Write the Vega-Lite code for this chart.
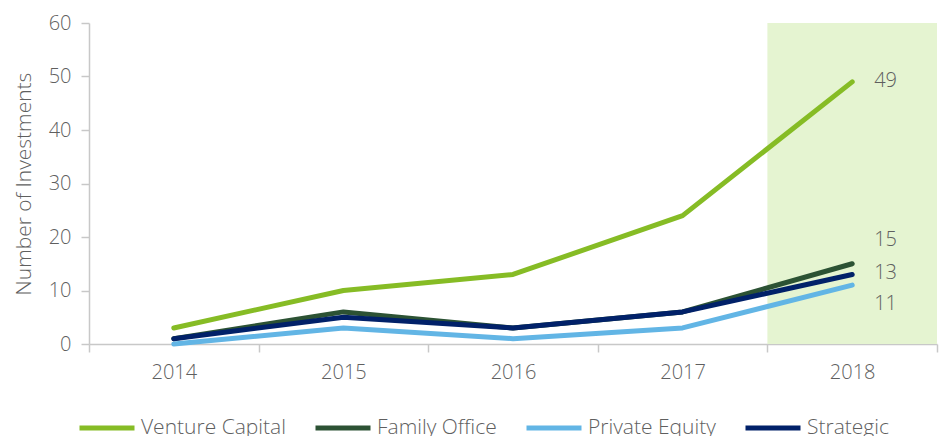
{
  "$schema": "https://vega.github.io/schema/vega-lite/v6.json",
  "autosize": {"type": "none"},
  "width": 848,
  "height": 321,
  "padding": {"left": 89, "top": 23, "right": 7, "bottom": 92},
  "background": "white",
  "config": {
    "view": {"stroke": null},
    "font": "Open Sans",
    "axis": {"labelFont": "Open Sans", "titleFont": "Open Sans", "labelFontWeight": 300, "titleFontWeight": 300, "labelColor": "#5f5f5f", "titleColor": "#5f5f5f", "labelFontSize": 20, "titleFontSize": 21, "domainColor": "#c8c8c8", "tickColor": "#c8c8c8", "domainWidth": 1.5, "tickWidth": 1.5, "grid": false, "labelOverlap": false},
    "legend": {"labelFont": "Open Sans", "labelFontWeight": 300, "labelColor": "#5f5f5f", "labelFontSize": 21}
  },
  "datasets": {
    "series": [
      {"year": "2014", "type": "Venture Capital", "value": 3},
      {"year": "2015", "type": "Venture Capital", "value": 10},
      {"year": "2016", "type": "Venture Capital", "value": 13},
      {"year": "2017", "type": "Venture Capital", "value": 24},
      {"year": "2018", "type": "Venture Capital", "value": 49},
      {"year": "2014", "type": "Family Office", "value": 1},
      {"year": "2015", "type": "Family Office", "value": 6},
      {"year": "2016", "type": "Family Office", "value": 3},
      {"year": "2017", "type": "Family Office", "value": 6},
      {"year": "2018", "type": "Family Office", "value": 15},
      {"year": "2014", "type": "Private Equity", "value": 0},
      {"year": "2015", "type": "Private Equity", "value": 3},
      {"year": "2016", "type": "Private Equity", "value": 1},
      {"year": "2017", "type": "Private Equity", "value": 3},
      {"year": "2018", "type": "Private Equity", "value": 11},
      {"year": "2014", "type": "Strategic", "value": 1},
      {"year": "2015", "type": "Strategic", "value": 5},
      {"year": "2016", "type": "Strategic", "value": 3},
      {"year": "2017", "type": "Strategic", "value": 6},
      {"year": "2018", "type": "Strategic", "value": 13}
    ],
    "highlight": [{"year": "2018", "top": 60}],
    "labels": [
      {"year": "2018", "type": "Venture Capital", "value": 49, "label": "49"},
      {"year": "2018", "type": "Family Office", "value": 15, "label": "15"},
      {"year": "2018", "type": "Strategic", "value": 13, "label": "13"},
      {"year": "2018", "type": "Private Equity", "value": 11, "label": "11"}
    ]
  },
  "layer": [
    {
      "data": {"name": "highlight"},
      "mark": {"type": "bar", "color": "#e5f4d1"},
      "encoding": {
        "x": {"field": "year", "type": "ordinal", "scale": {"type": "band", "domain": ["2014", "2015", "2016", "2017", "2018"], "paddingInner": 0, "paddingOuter": 0},
          "axis": {"title": null, "labelAngle": 0, "tickBand": "extent", "tickSize": 8, "labelPadding": 10}},
        "y": {"field": "top", "type": "quantitative", "scale": {"domain": [0, 60]},
          "axis": {"title": "Number of Investments", "values": [0, 10, 20, 30, 40, 50, 60], "tickSize": 8, "labelPadding": 10, "titlePadding": 14}}
      }
    },
    {
      "data": {"name": "series"},
      "mark": {"type": "line", "strokeWidth": 5, "strokeCap": "round", "strokeJoin": "round"},
      "encoding": {
        "x": {"field": "year", "type": "ordinal", "bandPosition": 0.5},
        "y": {"field": "value", "type": "quantitative"},
        "color": {"field": "type", "type": "nominal",
          "scale": {"domain": ["Venture Capital", "Family Office", "Private Equity", "Strategic"], "range": ["#86bc25", "#2c5234", "#62b5e5", "#012169"]},
          "legend": {"title": null, "orient": "none", "legendX": -12, "legendY": 375, "direction": "horizontal", "columns": 4, "symbolType": "stroke", "symbolSize": 3025, "symbolStrokeWidth": 5, "labelOffset": 4, "columnPadding": 19}},
        "order": {"field": "year"}
      }
    },
    {
      "data": {"name": "labels"},
      "transform": [{"filter": "datum.type == 'Venture Capital' || datum.type == 'Strategic'"}],
      "mark": {"type": "text", "align": "left", "baseline": "middle", "dx": 22, "dy": -1, "fontSize": 20, "fontWeight": 300, "color": "#5f5f5f", "font": "Open Sans"},
      "encoding": {
        "x": {"field": "year", "type": "ordinal", "bandPosition": 0.5},
        "y": {"field": "value", "type": "quantitative"},
        "text": {"field": "label"}
      }
    },
    {
      "data": {"name": "labels"},
      "transform": [{"filter": "datum.type == 'Family Office'"}],
      "mark": {"type": "text", "align": "left", "baseline": "middle", "dx": 22, "dy": -24, "fontSize": 20, "fontWeight": 300, "color": "#5f5f5f", "font": "Open Sans"},
      "encoding": {
        "x": {"field": "year", "type": "ordinal", "bandPosition": 0.5},
        "y": {"field": "value", "type": "quantitative"},
        "text": {"field": "label"}
      }
    },
    {
      "data": {"name": "labels"},
      "transform": [{"filter": "datum.type == 'Private Equity'"}],
      "mark": {"type": "text", "align": "left", "baseline": "middle", "dx": 22, "dy": 19, "fontSize": 20, "fontWeight": 300, "color": "#5f5f5f", "font": "Open Sans"},
      "encoding": {
        "x": {"field": "year", "type": "ordinal", "bandPosition": 0.5},
        "y": {"field": "value", "type": "quantitative"},
        "text": {"field": "label"}
      }
    }
  ]
}
